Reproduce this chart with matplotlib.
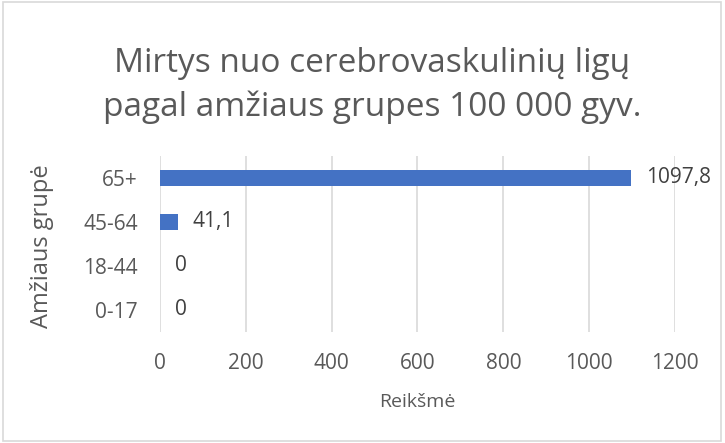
import matplotlib.pyplot as plt
from matplotlib.patches import Rectangle

plt.rcParams['font.family'] = ['Open Sans', 'DejaVu Sans']

# duomenys
groups = ['0-17', '18-44', '45-64', '65+']
values = [0, 0, 41.1, 1097.8]
labels = ['0', '0', '41,1', '1097,8']
xticks = [0, 200, 400, 600, 800, 1000, 1200]

text_col = '#595959'
bar_col = '#4472C4'
grid_col = '#D9D9D9'

fig = plt.figure(figsize=(7.25, 4.43), dpi=100)
ax = fig.add_axes([0.2207, 0.2506, 0.7103, 0.3973])

ax.barh(groups, values, height=0.35, color=bar_col, zorder=3)
for i, (v, lab) in enumerate(zip(values, labels)):
  ax.annotate(lab, (v, i), xytext=(11, 0), textcoords='offset points',
              va='center', ha='left', fontsize=15, color='#404040')

ax.set_xlim(0, 1200)
ax.set_ylim(-0.5, 3.5)
ax.set_xticks(xticks)
ax.set_xticklabels([str(t) for t in xticks])
ax.grid(axis='x', color=grid_col, linewidth=1.2, zorder=0)
for s in ax.spines.values():
  s.set_visible(False)
ax.tick_params(axis='both', length=0, labelsize=15, colors=text_col)
ax.tick_params(axis='y', pad=16)
ax.tick_params(axis='x', pad=15)

ax.set_xlabel('Reikšmė', fontsize=14, color=text_col, labelpad=14)
ax.set_ylabel('Amžiaus grupė', fontsize=17, color=text_col)
ax.yaxis.set_label_coords(-0.205, 0.49)

fig.text(0.513, 0.807, 'Mirtys nuo cerebrovaskulinių ligų\npagal amžiaus grupes 100 000 gyv.',
         ha='center', va='center', fontsize=24, color=text_col, linespacing=1.4)

fig.patches.append(Rectangle((0.004, 0.005), 0.99, 0.99, transform=fig.transFigure,
                             fill=False, edgecolor=grid_col, linewidth=1.2))

fig.savefig('out.png', dpi=100)
